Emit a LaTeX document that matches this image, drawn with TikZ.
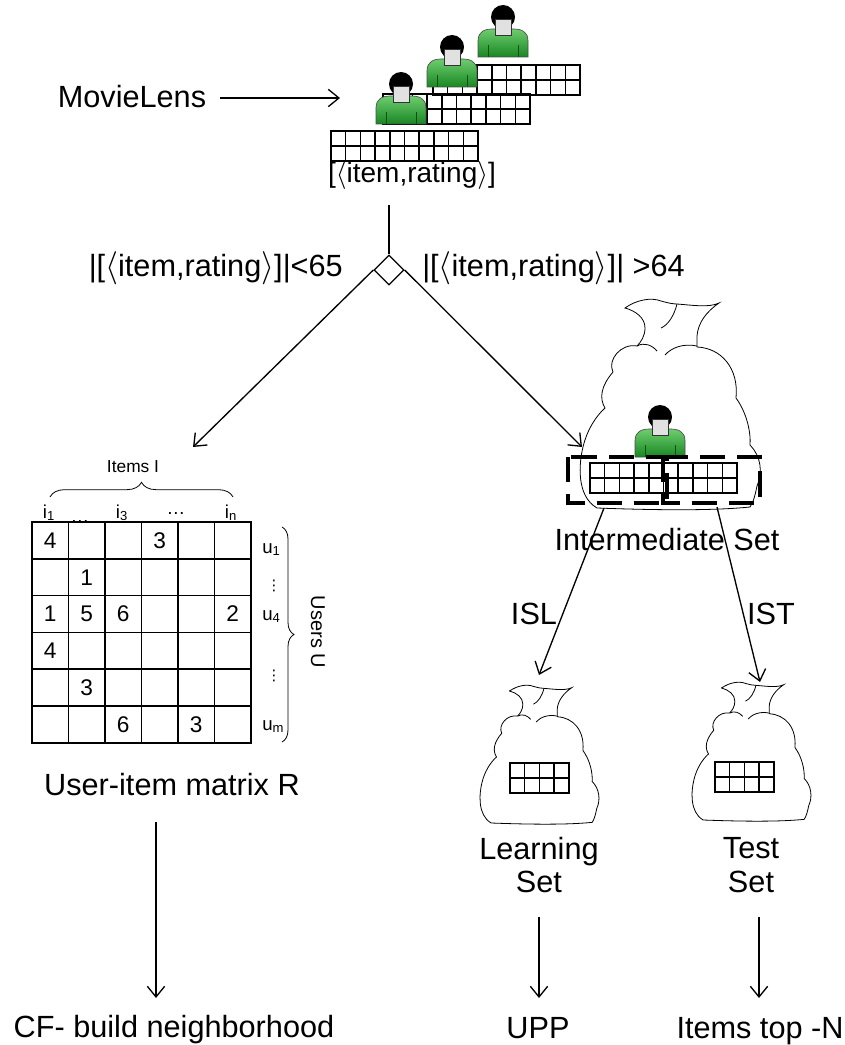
\documentclass[tikz,border=0pt]{standalone}
\usepackage{fontspec}
\setmainfont{Liberation Sans}
\newfontfamily\dotsfont{DejaVu Sans}
\usetikzlibrary{arrows.meta,shapes.geometric,decorations.pathreplacing}
\definecolor{UserTop}{RGB}{110,205,110}
\definecolor{UserBot}{RGB}{25,135,35}
\definecolor{FaceClr}{RGB}{225,225,225}

% two rows of rating cells: top-left x, top-left y, columns
\newcommand{\rategrid}[3]{%
  \foreach \c in {1,...,#3}
    \draw[cell] ({#1+(\c-1)*14.7},#2) rectangle ++(14.7,15) ++(-14.7,0) rectangle ++(14.7,15);
}

\begin{document}
\begin{tikzpicture}[x=0.75pt,y=-0.75pt,
  txt/.style={font=\fontsize{23}{25}\selectfont, inner sep=0pt},
  idx/.style={font=\fontsize{14}{16}\selectfont, inner sep=0pt},
  digit/.style={font=\fontsize{17}{19}\selectfont, inner sep=0pt},
  link/.style={line width=1pt, -{Straight Barb[length=8pt,width=13pt]}},
  cell/.style={line width=1.1pt},
  dashbox/.style={line width=3pt, dash pattern=on 19pt off 9pt},
  sackline/.style={line width=0.6pt, fill=white},
]
\tikzset{
  user/.pic={
    \shade[top color=UserTop, bottom color=UserBot, draw=black!70, line width=0.5pt]
      (-25,0) -- (-25,-16) .. controls (-25,-26) and (-18,-28) .. (-10,-28)
      -- (10,-28) .. controls (18,-28) and (25,-26) .. (25,-16) -- (25,0) -- cycle;
    \draw[UserBot!60!black, line width=0.5pt] (-15,-12) -- (-15,0) (15,-12) -- (15,0);
    \fill[black] (0,-40) circle (12);
    \filldraw[fill=FaceClr, draw=black!80, line width=0.4pt] (-8,-38) rectangle (8,-22);
  },
  sack/.pic={
    \draw[sackline] (-46,-200) .. controls (-35,-208) and (-20,-211) .. (-10,-207)
      .. controls (-3,-205) and (2,-204) .. (6,-204)
      .. controls (20,-203) and (38,-200) .. (48,-205)
      .. controls (35,-196) and (27,-185) .. (26,-172) -- (26,-161)
      .. controls (50,-160) and (68,-140) .. (65,-110)
      .. controls (76,-95) and (80,-75) .. (79,-63)
      .. controls (90,-52) and (92,-35) .. (86,-22)
      .. controls (84,-12) and (82,-5) .. (79,-1)
      .. controls (40,3) and (-20,2) .. (-74,0)
      .. controls (-95,-12) and (-92,-45) .. (-88,-61)
      .. controls (-84,-78) and (-75,-92) .. (-66,-100)
      .. controls (-72,-110) and (-70,-122) .. (-58,-136)
      .. controls (-64,-148) and (-50,-165) .. (-34,-162)
      .. controls (-30,-166) and (-26,-172) .. (-26,-180)
      .. controls (-26,-190) and (-35,-197) .. cycle;
    \draw[line width=0.6pt] (6,-204) .. controls (3,-192) and (-3,-183) .. (-10,-180);
    \draw[line width=0.6pt] (-34,-162) .. controls (-27,-166) and (-19,-163) .. (-14,-157);
    \draw[line width=0.6pt] (-6,-153) .. controls (0,-160) and (12,-165) .. (26,-162);
  },
}
\useasboundingbox (0,0) rectangle (844,1045);

% data set: users stacked with their rating rows
\rategrid{433}{65}{10}
\pic (u3) at (503,57) {user};
\pic (u2) at (452,87) {user};
\rategrid{383}{94}{10}
\pic (u1) at (401,124) {user};
\rategrid{331}{131}{10}

\node[txt, anchor=base] (ml) at (132,108) {MovieLens};
\path (ml.east) ++(14,0) coordinate (mlstart);
\coordinate (mlend) at (340,98);
\draw[link] (mlstart |- mlend) -- (mlend);
\node[txt, font=\fontsize{21}{23}\selectfont, anchor=base] (pairs) at (412,182) {[$\langle$item,rating$\rangle$]};

% split on the number of ratings
\node[diamond, draw, line width=1pt, inner sep=0pt, minimum width=22.5pt, minimum height=22.5pt] (split) at (389,270) {};
\coordinate (splittop) at (389,205);
\draw[line width=1pt] (splittop) -- (split.north);
\node[txt, anchor=base east] (few) at (343,276) {|[$\langle$item,rating$\rangle$]|<65};
\node[txt, anchor=base west] (many) at (422,276) {|[$\langle$item,rating$\rangle$]| >64};
\coordinate (fewtip) at (193,447);
\coordinate (manytip) at (582,447);
\draw[link] (split.west) -- (fewtip);
\draw[link] (split.east) -- (manytip);

% user-item matrix
\foreach \r in {0,...,5}
  \foreach \c in {0,...,5}
    \draw[cell] ({32+\c*36.5},{522+\r*36.8}) rectangle ++(36.5,36.8);
\foreach \r/\c/\v in {1/1/4, 1/4/3, 2/2/1, 3/1/1, 3/2/5, 3/3/6, 3/6/2, 4/1/4, 5/2/3, 6/3/6, 6/5/3}
  \node[digit] (r\r\c) at ({32+(\c-0.5)*36.5},{522+(\r-0.5)*36.8}) {\v};

\node[idx, anchor=base] (i1) at (49,518) {i\textsubscript{1}};
\node[idx, anchor=base] (idots1) at (80,522) {\dots};
\node[idx, anchor=base] (i3) at (122,518) {i\textsubscript{3}};
\node[idx, anchor=base] (idots2) at (176,514) {\dots};
\node[idx, anchor=base] (in) at (231,518) {i\textsubscript{n}};
\draw[line width=0.6pt, decorate, decoration={brace, amplitude=11pt}] (50,497) -- (233,497);
\node[idx, font=\fontsize{13}{15}\selectfont, anchor=base] (items) at (133,472) {Items I};

\node[idx, anchor=base west] (us1) at (262,553) {u\textsubscript{1}};
\node[idx, font=\fontsize{11}{12}\dotsfont] (udots1) at (274,586) {⋮};
\node[idx, anchor=base west] (us4) at (262,620) {u\textsubscript{4}};
\node[idx, font=\fontsize{11}{12}\dotsfont] (udots2) at (274,676) {⋮};
\node[idx, anchor=base west] (usm) at (262,730) {u\textsubscript{m}};
\draw[line width=0.6pt, decorate, decoration={brace, amplitude=9pt}] (282,527) -- (282,742);
\node[idx, font=\fontsize{15}{17}\selectfont, rotate=-90] (users) at (318,632) {Users U};

\node[txt, anchor=base] (matR) at (172,795) {User-item matrix R};
\coordinate (cfstart) at (156,822);
\coordinate (cfend) at (156,998);
\draw[link] (cfstart) -- (cfend);
\node[txt, anchor=base] (cf) at (174,1037) {CF- build neighborhood};

% intermediate set
\pic (inter) at (671,508) {sack};
\pic (uin) at (660,457) {user};
\rategrid{590}{463}{10}
\draw[dashbox] (568,457) rectangle (667,503);
\draw[dashbox] (663,457) rectangle (760,503);
\node[txt, anchor=base] (interlbl) at (667,550) {Intermediate Set};

\coordinate (islstart) at (604,508);
\coordinate (islend) at (539,675);
\coordinate (iststart) at (717,507);
\coordinate (istend) at (760,682);
\draw[link] (islstart) -- (islend);
\draw[link] (iststart) -- (istend);
\node[txt, anchor=base] (isl) at (534,624) {ISL};
\node[txt, anchor=base] (ist) at (771,624) {IST};

% learning and test sets
\pic[scale=0.66] (learn) at (540,823) {sack};
\rategrid{510}{763}{4}
\pic[scale=0.66] (test) at (752,820) {sack};
\rategrid{715}{762}{4}
\node[txt, align=center] (learnlbl) at (539,865) {Learning\\Set};
\node[txt, align=center] (testlbl) at (751,865) {Test\\Set};

\coordinate (uppstart) at (539,917);
\coordinate (uppend) at (539,998);
\coordinate (topnstart) at (759,917);
\coordinate (topnend) at (759,998);
\draw[link] (uppstart) -- (uppend);
\draw[link] (topnstart) -- (topnend);
\node[txt, anchor=base] (upp) at (538,1038) {UPP};
\node[txt, anchor=base] (topn) at (760,1038) {Items top -N};
\end{tikzpicture}
\end{document}
